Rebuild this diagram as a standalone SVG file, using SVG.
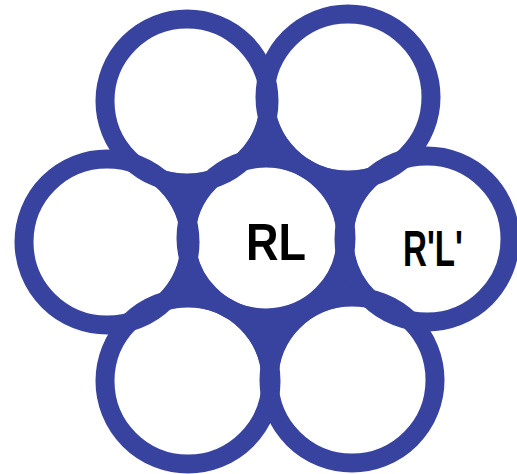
<svg xmlns="http://www.w3.org/2000/svg" width="517" height="474" viewBox="0 0 517 474">
<style>
.c{fill:none;stroke:#3843A0;stroke-width:19}
.t{font-family:"Liberation Sans",Arial,sans-serif;font-weight:bold;fill:#000}
</style>
<rect width="517" height="474" fill="#fff"/>
<polygon points="187,101 348,97 427,239 352,380 188,381 107,242" fill="#3843A0"/>
<g fill="#fff">
<circle cx="187" cy="101" r="73"/>
<circle cx="348" cy="97" r="74"/>
<circle cx="107" cy="242" r="74"/>
<circle cx="266" cy="238" r="71"/>
<circle cx="427" cy="239" r="74"/>
<circle cx="188" cy="381" r="74"/>
<circle cx="352" cy="380" r="74"/>
</g>
<g id="top-left"><circle class="c" cx="187" cy="101" r="82"/></g>
<g id="top-right"><circle class="c" cx="348" cy="97" r="83"/></g>
<g id="left"><circle class="c" cx="107" cy="242" r="83"/></g>
<g id="center"><circle class="c" cx="266" cy="238" r="80"/><text class="t" x="246" y="260" font-size="52" textLength="60" lengthAdjust="spacingAndGlyphs">RL</text></g>
<g id="right"><circle class="c" cx="427" cy="239" r="83"/><text class="t" x="403" y="266" font-size="50" textLength="60" lengthAdjust="spacingAndGlyphs">R'L'</text></g>
<g id="bottom-left"><circle class="c" cx="188" cy="381" r="83"/></g>
<g id="bottom-right"><circle class="c" cx="352" cy="380" r="83"/></g>
<g id="connectors"/>
</svg>
